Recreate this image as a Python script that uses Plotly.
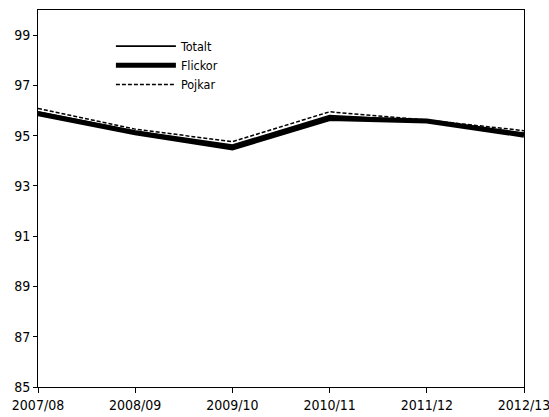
import plotly.graph_objects as go

years = ["2007/08", "2008/09", "2009/10", "2010/11", "2011/12", "2012/13"]
totalt = [95.95, 95.18, 94.62, 95.80, 95.60, 95.10]
flickor = [95.87, 95.11, 94.51, 95.68, 95.58, 95.02]
pojkar = [96.08, 95.26, 94.76, 95.95, 95.62, 95.20]
y_ticks = [85, 87, 89, 91, 93, 95, 97, 99]

FONT = "Liberation Sans Narrow, DejaVu Sans Condensed, Arial Narrow, sans-serif"

fig = go.Figure()
fig.add_trace(go.Scatter(x=years, y=flickor, mode="lines", name="Flickor",
                         line=dict(color="black", width=5), legendrank=2))
fig.add_trace(go.Scatter(x=years, y=totalt, mode="lines", name="Totalt",
                         line=dict(color="black", width=1.8), legendrank=1))
fig.add_trace(go.Scatter(x=years, y=pojkar, mode="lines", name="Pojkar",
                         line=dict(color="black", width=1.5, dash="4px,2px"),
                         legendrank=3))

fig.update_layout(
    template="none",
    width=549, height=417,
    margin=dict(l=38, r=25, t=10, b=30, autoexpand=False),
    paper_bgcolor="white", plot_bgcolor="white",
    font=dict(family=FONT, size=14, color="black"),
    showlegend=True,
    legend=dict(x=0.15, y=0.943, xanchor="left", yanchor="top",
                bgcolor="rgba(0,0,0,0)", font=dict(size=12.5),
                tracegroupgap=0, itemwidth=60),
    xaxis=dict(type="category", range=[0, 5], showgrid=False, zeroline=False,
               automargin=False,
               showline=True, linecolor="black", linewidth=1, mirror=True,
               ticks="outside", ticklen=5, tickcolor="black", tickwidth=1),
    xaxis2=dict(type="category", range=[0, 5], overlaying="x", anchor="y",
                categoryarray=years, categoryorder="array", automargin=False,
                tickvals=years, showgrid=False, zeroline=False, showline=False,
                ticks="inside", ticklen=5, tickcolor="black", tickwidth=1,
                showticklabels=False),
    yaxis=dict(range=[85, 100], tickvals=y_ticks, showgrid=False, zeroline=False,
               automargin=False,
               showline=True, linecolor="black", linewidth=1, mirror=True,
               ticks="outside", ticklen=4, tickcolor="black", tickwidth=1),
)

fig.write_html("out.html", config={"displayModeBar": False},
               post_script="document.body.style.margin='0';")
